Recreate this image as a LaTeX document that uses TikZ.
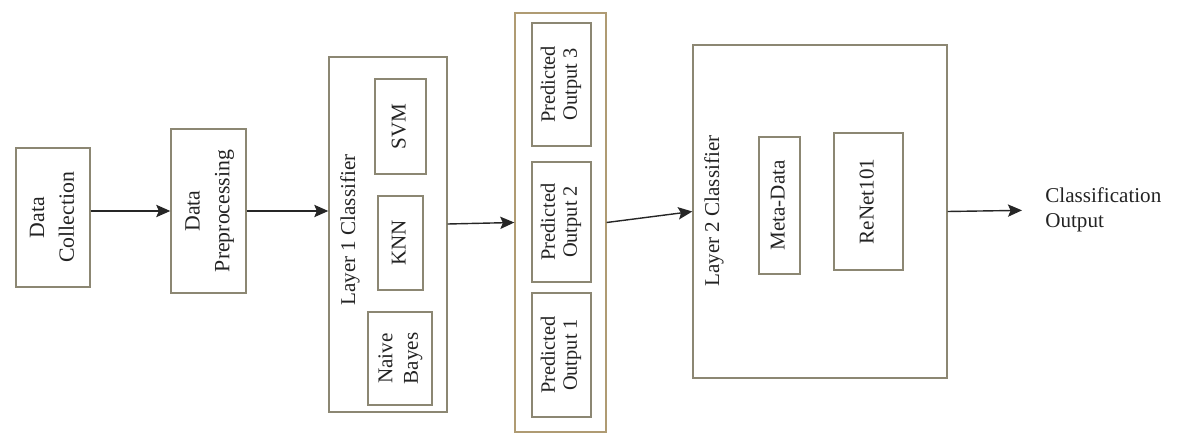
\documentclass[tikz,border=0pt]{standalone}
\usepackage{fontspec}
\setmainfont{Liberation Serif}
\usetikzlibrary{arrows.meta}
\definecolor{boxline}{RGB}{140,135,115}
\definecolor{stackline}{RGB}{175,155,115}
\definecolor{inktext}{RGB}{35,35,35}
\newcommand{\vtext}[1]{\rotatebox{90}{\begin{tabular}{@{}c@{}}#1\end{tabular}}}

\begin{document}
\begin{tikzpicture}[x=0.02cm, y=-0.02cm, >={Stealth[length=8pt,width=7pt,inset=1.5pt]},
  every node/.style={font=\fontsize{12}{14.5}\selectfont, text=inktext},
  blk/.style={draw=boxline, line width=0.8pt, inner sep=0pt, align=center},
  arr/.style={->, line width=0.8pt, draw=black!85}]
\useasboundingbox (0,0) rectangle (1187,442);

% first two steps
\node[blk, minimum width=1.48cm, minimum height=2.78cm] (coll) at (53,217.5)
  {\fontsize{12.4}{17}\selectfont\vtext{Data\\Collection}};
\node[blk, minimum width=1.5cm, minimum height=3.28cm] (prep) at (208.5,211)
  {\fontsize{12.4}{17}\selectfont\vtext{Data\\Preprocessing}};

% layer 1
\node[blk, minimum width=2.36cm, minimum height=7.1cm] (lay1) at (388,234.5) {};
\node (lay1txt) at (350,230) {\vtext{Layer 1 Classifier}};
\node[blk, minimum width=1.02cm, minimum height=1.9cm] (svm) at (400.5,126.5) {\vtext{SVM}};
\node[blk, minimum width=0.9cm, minimum height=1.88cm] (knn) at (400.5,243) {\vtext{KNN}};
\node[blk, minimum width=1.28cm, minimum height=1.86cm] (nb) at (400,358.5) {\vtext{Naive\\Bayes}};

% predicted outputs
\node[blk, draw=stackline, minimum width=1.82cm, minimum height=8.38cm] (pred) at (560.5,222.5) {};
\node[blk, minimum width=1.18cm, minimum height=2.46cm] (p3) at (561.5,84.5)
  {\fontsize{11.6}{12.5}\selectfont\vtext{Predicted\\Output 3}};
\node[blk, minimum width=1.18cm, minimum height=2.4cm] (p2) at (561.5,222)
  {\fontsize{11.6}{12.5}\selectfont\vtext{Predicted\\Output 2}};
\node[blk, minimum width=1.18cm, minimum height=2.48cm] (p1) at (561.5,355)
  {\fontsize{11.6}{12.5}\selectfont\vtext{Predicted\\Output 1}};

% layer 2
\node[blk, minimum width=5.08cm, minimum height=6.66cm] (lay2) at (820,211.5) {};
\node (lay2txt) at (714,211) {\vtext{Layer 2 Classifier}};
\node[blk, minimum width=0.82cm, minimum height=2.74cm] (meta) at (779.5,205.5) {\vtext{Meta-Data}};
\node[blk, minimum width=1.38cm, minimum height=2.74cm] (renet) at (868.5,201.5) {\vtext{ReNet101}};

\node[anchor=west, inner sep=0pt, align=left] (out) at (1045,210) {Classification\\Output};

% connectors
\draw[arr] (coll.east |- prep.west) -- (prep.west);
\draw[arr] (prep.east) -- (prep.east -| lay1.west);
\draw[arr] ([yshift=0.21cm]lay1.east) -- (pred.west);
\draw[arr] (pred.east) -- (lay2.west);
\draw[arr, shorten >=0.46cm] (lay2.east) -- (out.west);
\end{tikzpicture}
\end{document}
